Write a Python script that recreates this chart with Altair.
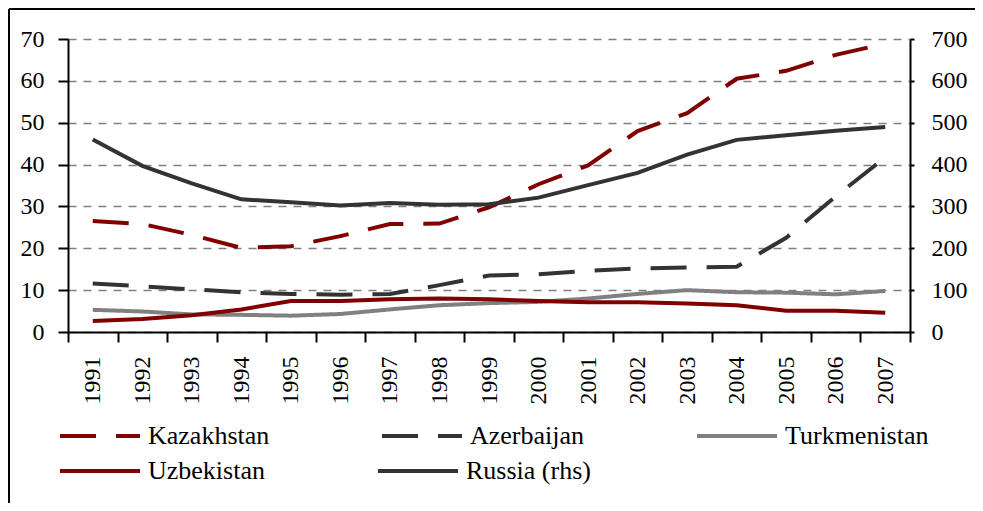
import altair as alt
import pandas as pd

years = list(range(1991, 2008))
kazakhstan = [26.5, 25.8, 23.2, 20.1, 20.5, 22.9, 25.8, 25.9, 29.8, 35.3, 39.8, 48.0, 52.3, 60.5, 62.4, 66.2, 68.9]
azerbaijan = [11.6, 10.9, 10.2, 9.5, 9.1, 8.9, 9.1, 11.2, 13.5, 13.8, 14.6, 15.2, 15.4, 15.6, 22.5, 32.4, 41.7]
turkmenistan = [5.3, 4.9, 4.2, 4.1, 3.9, 4.3, 5.4, 6.4, 6.9, 7.2, 8.0, 9.1, 10.0, 9.5, 9.4, 9.0, 9.8]
uzbekistan = [2.6, 3.1, 4.0, 5.4, 7.4, 7.4, 7.8, 8.0, 7.8, 7.4, 7.1, 7.1, 6.8, 6.4, 5.1, 5.1, 4.6]
russia = [460, 397, 355, 317, 310, 302, 308, 304, 305, 321, 351, 380, 424, 459, 470, 481, 490]

row1_names = ["Kazakhstan", "Azerbaijan", "Turkmenistan"]
row1_colors = ["#800000", "#333333", "#808080"]
row1_dashes = [[36, 20], [36, 20], [1, 0]]

FONT = "Liberation Serif"

rows1 = []
for name, vals in zip(row1_names, [kazakhstan, azerbaijan, turkmenistan]):
    for y, v in zip(years, vals):
        rows1.append({"year": str(y), "value": v, "series": name})
df1 = pd.DataFrame(rows1)
df_uz = pd.DataFrame({"year": [str(y) for y in years], "value": uzbekistan,
                      "series": "Uzbekistan"})
df_ru = pd.DataFrame({"year": [str(y) for y in years], "value": russia,
                      "series": "Russia (rhs)"})


def legend(x, y):
    return alt.Legend(
        title=None, orient="none", legendX=x, legendY=y, direction="horizontal",
        symbolType="stroke", symbolSize=6400, symbolStrokeWidth=4,
        labelFont=FONT, labelFontSize=26, labelColor="black", labelOffset=6,
        columnPadding=104, padding=0, labelLimit=400,
    )


x_enc = alt.X(
    "year:O",
    bandPosition=0.5,
    scale=alt.Scale(type="band", paddingInner=0, paddingOuter=0),
    axis=alt.Axis(title=None, labelAngle=270, labelPadding=14, tickSize=10,
                  tickBand="extent", grid=False),
)

y_left_scale = alt.Scale(domain=[0, 70], nice=False)
y_left_axis = alt.Axis(title=None, values=list(range(0, 71, 10)), tickSize=10,
                       labelPadding=14, grid=True, gridDash=[8, 7],
                       gridColor="#808080", gridWidth=1.5)

l1 = alt.Chart(df1).mark_line(strokeWidth=4, strokeCap="butt").encode(
    x=x_enc,
    y=alt.Y("value:Q", scale=y_left_scale, axis=y_left_axis),
    color=alt.Color("series:N", scale=alt.Scale(domain=row1_names, range=row1_colors),
                    legend=legend(-10, 355)),
    strokeDash=alt.StrokeDash("series:N",
                              scale=alt.Scale(domain=row1_names, range=row1_dashes),
                              legend=legend(-10, 355)),
)

l2 = alt.Chart(df_uz).mark_line(strokeWidth=4, strokeCap="butt").encode(
    x=x_enc,
    y=alt.Y("value:Q", scale=y_left_scale, axis=y_left_axis),
    color=alt.Color("series:N", scale=alt.Scale(domain=["Uzbekistan"], range=["#800000"]),
                    legend=legend(-10, 390)),
)

l3 = alt.Chart(df_ru).mark_line(strokeWidth=4, strokeCap="butt").encode(
    x=x_enc,
    y=alt.Y("value:Q", scale=alt.Scale(domain=[0, 700], nice=False),
            axis=alt.Axis(title=None, orient="right", values=list(range(0, 701, 100)),
                          tickSize=4, labelPadding=17, grid=False)),
    color=alt.Color("series:N", scale=alt.Scale(domain=["Russia (rhs)"], range=["#333333"]),
                    legend=legend(308, 390)),
)

left_group = alt.layer(l1, l2).resolve_scale(color="independent", strokeDash="independent")

frame_data = alt.Data(values=[{"k": 1}])
top_border = alt.Chart(frame_data).mark_rule(color="black", strokeWidth=2).encode(
    x=alt.value(-59), x2=alt.value(920), y=alt.value(-30))
left_border = alt.Chart(frame_data).mark_rule(color="black", strokeWidth=2).encode(
    x=alt.value(-59), y=alt.value(-30), y2=alt.value(480))

chart = alt.layer(left_group, l3, top_border, left_border).resolve_scale(
    y="independent", color="independent", strokeDash="independent"
).properties(
    width=842, height=293,
    autosize=alt.AutoSizeParams(type="none"),
    padding={"left": 60, "top": 31, "right": 65, "bottom": 171},
).configure_view(stroke=None).configure_axis(
    labelFont=FONT, labelFontSize=24, labelColor="black",
    domainColor="black", domainWidth=2, tickColor="black", tickWidth=2,
)

chart.save("out.html", embed_options={"renderer": "svg", "actions": False})
